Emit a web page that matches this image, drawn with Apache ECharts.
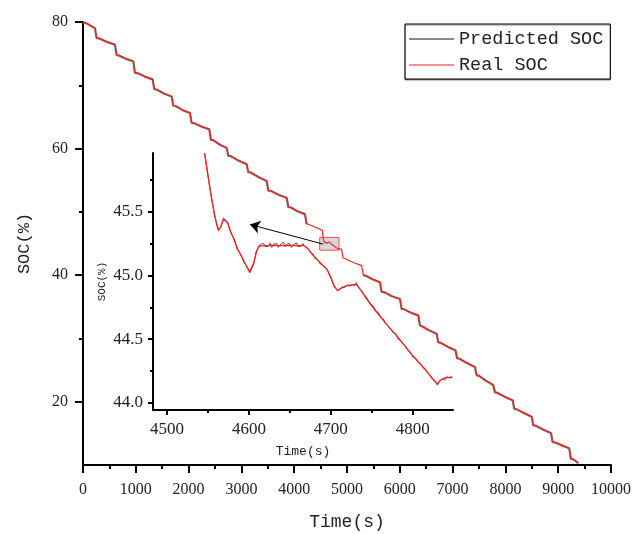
<!DOCTYPE html>
<html>
<head>
<meta charset="utf-8">
<script src="https://cdn.jsdelivr.net/npm/echarts@6/dist/echarts.min.js"></script>
<style>html,body{margin:0;padding:0;background:#fff}#c{width:635px;height:534px}</style>
</head>
<body>
<div id="c"></div>
<script>
// ---- data ----
var seriesNames = ['Predicted SOC', 'Real SOC'];
var mainXTicks = [0,1000,2000,3000,4000,5000,6000,7000,8000,9000,10000];
var mainYTicks = [20,40,60,80];
var mainYMinor = [30,50,70];
var insetXTicks = [4500,4600,4700,4800];
var insetXMinor = [4550,4650,4750];
var insetYTicks = [44.0,44.5,45.0,45.5];
var insetYMinor = [44.25,44.75,45.25,45.75];
var insetXRange = [4483, 4849];
var insetYRange = [43.945, 45.96];

var realMain = [[0,80.0],[60,79.8],[150,79.4],[227,79.0],[257,77.5],[300,77.4],[450,76.9],[606,76.4],
[636,74.8],[680,74.7],[820,74.2],[953,73.75],
[983,72.0],[1030,71.9],[1170,71.4],[1320,70.9],
[1350,69.4],[1395,69.3],[1540,68.7],[1680,68.2],
[1710,66.8],[1755,66.7],[1890,66.1],[2027,65.6],
[2057,64.1],[2100,64.0],[2250,63.5],[2393,63.0],
[2423,61.4],[2465,61.3],[2600,60.6],[2721,60.1],
[2751,58.9],[2795,58.8],[2950,58.1],[3100,57.5],
[3130,56.3],[3175,56.2],[3330,55.5],[3479,54.85],
[3509,53.4],[3555,53.3],[3710,52.7],[3858,52.2],
[3888,50.8],[3930,50.7],[4070,50.1],[4205,49.6],
[4235,48.1],[4280,48.0],[4420,47.5],[4535,47.1],
[4546,45.96],[4563,45.35],[4571,45.45],[4603,45.02],[4611,45.23],[4666,45.23],[4707,44.88],[4731,44.93],[4830,44.15],[4848,44.2],
[4895,44.1],[4925,42.75],[4970,42.6],[5120,42.0],[5278,41.5],
[5308,40.0],[5350,39.9],[5490,39.35],[5625,38.85],
[5655,37.4],[5700,37.3],[5850,36.7],[6004,36.2],
[6034,34.7],[6075,34.6],[6210,34.1],[6351,33.6],
[6381,32.1],[6420,31.9],[6560,31.3],[6699,30.7],
[6729,29.4],[6770,29.3],[6910,28.7],[7055,28.1],
[7085,26.9],[7125,26.8],[7280,26.1],[7424,25.45],
[7454,24.2],[7495,24.1],[7640,23.3],[7771,22.6],
[7801,21.5],[7845,21.4],[7990,20.8],[8138,20.2],
[8168,18.9],[8210,18.8],[8360,18.2],[8498,17.6],
[8528,16.3],[8570,16.2],[8720,15.6],[8864,15.0],
[8894,13.65],[8935,13.55],[9080,13.1],[9210,12.6],
[9240,11.0],[9280,10.9],[9340,10.6],[9380,10.3]];

var predMain = [[0,79.95],[60,79.82],[150,79.38],[227,79.03],[257,77.46],[300,77.42],[450,76.86],[606,76.43],
[636,74.77],[680,74.72],[820,74.17],[953,73.78],
[983,71.96],[1030,71.93],[1170,71.37],[1320,70.93],
[1350,69.37],[1395,69.32],[1540,68.67],[1680,68.23],
[1710,66.77],[1755,66.73],[1890,66.07],[2027,65.63],
[2057,64.07],[2100,64.03],[2250,63.46],[2393,63.04],
[2423,61.36],[2465,61.33],[2600,60.57],[2721,60.13],
[2751,58.86],[2795,58.83],[2950,58.06],[3100,57.54],
[3130,56.26],[3175,56.23],[3330,55.46],[3479,54.88],
[3509,53.36],[3555,53.33],[3710,52.66],[3858,52.24],
[3888,50.76],[3930,50.73],[4070,50.06],[4205,49.64],
[4235,48.07],null,
[5308,39.96],[5350,39.93],[5490,39.32],[5625,38.88],
[5655,37.36],[5700,37.33],[5850,36.66],[6004,36.24],
[6034,34.66],[6075,34.63],[6210,34.06],[6351,33.64],
[6381,32.06],[6420,31.93],[6560,31.26],[6699,30.74],
[6729,29.36],[6770,29.33],[6910,28.66],[7055,28.14],
[7085,26.86],[7125,26.83],[7280,26.06],[7424,25.49],
[7454,24.16],[7495,24.13],[7640,23.26],[7771,22.64],
[7801,21.46],[7845,21.43],[7990,20.76],[8138,20.24],
[8168,18.86],[8210,18.83],[8360,18.16],[8498,17.64],
[8528,16.26],[8570,16.23],[8720,15.56],[8864,15.04],
[8894,13.61],[8935,13.58],[9080,13.06],[9210,12.64],
[9240,10.96],[9280,10.93],[9340,10.56],[9380,10.27]];

var realInset = [[4546,45.96],[4550,45.79],[4554,45.62],[4558,45.48],[4561,45.39],[4563,45.35],[4566,45.39],[4569,45.44],[4571,45.45],[4574,45.41],[4578,45.34],[4582,45.28],[4586,45.21],[4590,45.16],[4594,45.11],[4598,45.06],[4601,45.03],[4603,45.02],[4606,45.10],[4609,45.18],[4612,45.23],[4620,45.234],[4630,45.236],[4640,45.233],[4650,45.236],[4660,45.234],[4667,45.235],[4672,45.21],[4678,45.16],[4684,45.12],[4690,45.08],[4695,45.05],[4700,44.98],[4704,44.92],[4708,44.88],[4713,44.90],[4719,44.92],[4725,44.925],[4731,44.93],[4736,44.89],[4742,44.83],[4750,44.76],[4760,44.68],[4770,44.60],[4780,44.53],[4790,44.45],[4800,44.37],[4810,44.30],[4818,44.24],[4824,44.19],[4830,44.15],[4834,44.18],[4840,44.20],[4848,44.20]];

var predInset = [[4546,45.95],[4550,45.78],[4554,45.63],[4558,45.47],[4561,45.40],[4563,45.36],[4566,45.38],[4569,45.45],[4571,45.44],[4574,45.42],[4578,45.33],[4582,45.29],[4586,45.20],[4590,45.17],[4594,45.10],[4598,45.07],[4601,45.02],[4603,45.03],[4606,45.09],[4609,45.19],[4612,45.22],[4614,45.245],[4616,45.23],[4618,45.25],[4620,45.225],[4622,45.24],[4624,45.23],[4626,45.255],[4628,45.22],[4630,45.245],[4632,45.23],[4634,45.25],[4636,45.22],[4638,45.24],[4640,45.235],[4642,45.26],[4644,45.225],[4646,45.245],[4648,45.23],[4650,45.25],[4652,45.22],[4654,45.24],[4656,45.235],[4658,45.255],[4660,45.225],[4662,45.24],[4664,45.23],[4666,45.25],[4668,45.23],[4672,45.215],[4675,45.18],[4678,45.17],[4681,45.13],[4684,45.125],[4687,45.09],[4690,45.085],[4693,45.06],[4696,45.04],[4700,44.99],[4704,44.91],[4708,44.885],[4711,44.895],[4714,44.91],[4717,44.905],[4720,44.925],[4723,44.915],[4726,44.93],[4729,44.92],[4731,44.945],[4734,44.90],[4737,44.885],[4740,44.85],[4743,44.835],[4746,44.80],[4749,44.775],[4752,44.76],[4755,44.72],[4758,44.71],[4761,44.67],[4764,44.66],[4767,44.62],[4770,44.605],[4773,44.58],[4776,44.55],[4779,44.545],[4782,44.50],[4785,44.49],[4788,44.46],[4791,44.45],[4794,44.41],[4797,44.40],[4800,44.36],[4803,44.355],[4806,44.32],[4809,44.31],[4812,44.28],[4815,44.27],[4818,44.235],[4821,44.22],[4824,44.185],[4827,44.17],[4830,44.14],[4833,44.175],[4836,44.19],[4839,44.18],[4842,44.205],[4845,44.195],[4848,44.21]];

// arrow annotation (data coords of the main chart)
var arrowFrom = [4551, 44.9];
var arrowTo = [3163, 48.0];

// ---- chart ----
var SERIF = '"Liberation Serif", serif';
var MONO = '"Liberation Mono", monospace';
var LINE = {lineStyle: {color: '#000', width: 2}};
var plain = function (v) { return String(v); };
var HIDE = {color: 'rgba(0,0,0,0)', borderColor: 'rgba(0,0,0,0)', borderWidth: 0, opacity: 0};

var chart = echarts.init(document.getElementById('c'), null, {renderer: 'canvas'});
chart.setOption({
  animation: false,
  backgroundColor: '#fff',
  grid: [
    {left: 83, top: 22, right: 24, bottom: 69, containLabel: false, outerBoundsMode: 'none'},
    {left: 153, top: 153, right: 182, bottom: 124, containLabel: false, outerBoundsMode: 'none'}
  ],
  legend: {
    orient: 'vertical', left: 405, top: 24,
    borderColor: '#000', borderWidth: 1, borderRadius: 0,
    backgroundColor: '#fff',
    shadowColor: 'rgba(0,0,0,0.45)', shadowOffsetX: 0, shadowOffsetY: 1, shadowBlur: 0,
    padding: [5, 7, 4, 3],
    itemWidth: 45, itemHeight: 14, itemGap: 6, itemTextGap: 10,
    textStyle: {fontFamily: MONO, fontSize: 18.5, color: '#222', lineHeight: 20},
    data: [
      {name: seriesNames[0], itemStyle: HIDE, lineStyle: {color: '#888', width: 2}},
      {name: seriesNames[1], itemStyle: HIDE, lineStyle: {color: '#ff2020', width: 1}}
    ]
  },
  xAxis: [
    {gridIndex: 0, type: 'value', position: 'bottom', min: 0, max: 10000, interval: 1000,
     axisLine: LINE, axisTick: {length: 8, lineStyle: {width: 2, color: '#000'}},
     minorTick: {show: true, splitNumber: 2, length: 4, lineStyle: {width: 2, color: '#000'}},
     splitLine: {show: false},
     axisLabel: {fontFamily: SERIF, fontSize: 16, color: '#222', margin: 17, formatter: plain},
     name: 'Time(s)', nameLocation: 'middle', nameGap: 48,
     nameTextStyle: {fontFamily: MONO, fontSize: 18, color: '#222'}},
    {gridIndex: 1, type: 'value', position: 'bottom', min: insetXRange[0], max: insetXRange[1],
     axisLine: LINE,
     axisTick: {length: 5, customValues: insetXTicks, lineStyle: {width: 2, color: '#000'}},
     splitLine: {show: false},
     axisLabel: {customValues: insetXTicks, fontFamily: SERIF, fontSize: 17, color: '#222', margin: 11, formatter: plain},
     name: 'Time(s)', nameLocation: 'middle', nameGap: 35,
     nameTextStyle: {fontFamily: MONO, fontSize: 13, color: '#222'}},
    {gridIndex: 1, type: 'value', position: 'bottom', min: insetXRange[0], max: insetXRange[1],
     axisLine: {show: false},
     axisTick: {length: 3, customValues: insetXMinor, lineStyle: {width: 2, color: '#000'}},
     axisLabel: {show: false}, splitLine: {show: false}}
  ],
  yAxis: [
    {gridIndex: 0, type: 'value', position: 'left', min: 10, max: 80,
     axisLine: LINE,
     axisTick: {length: 8, customValues: mainYTicks, lineStyle: {width: 2, color: '#000'}},
     splitLine: {show: false},
     axisLabel: {customValues: mainYTicks, fontFamily: SERIF, fontSize: 16, color: '#222', margin: 15,
                 padding: [2, 0, 0, 0], formatter: plain},
     name: 'SOC(%)', nameLocation: 'middle', nameGap: 50, nameRotate: 90,
     nameTextStyle: {fontFamily: MONO, fontSize: 17, color: '#222'}},
    {gridIndex: 0, type: 'value', position: 'left', min: 10, max: 80,
     axisLine: {show: false},
     axisTick: {length: 4, customValues: mainYMinor, lineStyle: {width: 2, color: '#000'}},
     axisLabel: {show: false}, splitLine: {show: false}},
    {gridIndex: 1, type: 'value', position: 'left', min: insetYRange[0], max: insetYRange[1],
     axisLine: LINE,
     axisTick: {length: 5, customValues: insetYTicks, lineStyle: {width: 2, color: '#000'}},
     splitLine: {show: false},
     axisLabel: {customValues: insetYTicks, fontFamily: SERIF, fontSize: 17, color: '#222', margin: 10,
                 padding: [2, 0, 0, 0], formatter: function (v) { return v.toFixed(1); }},
     name: 'SOC(%)', nameLocation: 'middle', nameGap: 45, nameRotate: 90,
     nameTextStyle: {fontFamily: MONO, fontSize: 11, color: '#222'}},
    {gridIndex: 1, type: 'value', position: 'left', min: insetYRange[0], max: insetYRange[1],
     axisLine: {show: false},
     axisTick: {length: 3, customValues: insetYMinor, lineStyle: {width: 2, color: '#000'}},
     axisLabel: {show: false}, splitLine: {show: false}}
  ],
  series: [
    {name: seriesNames[0], type: 'line', xAxisIndex: 0, yAxisIndex: 0, data: predMain,
     symbol: 'none', connectNulls: false, silent: true,
     lineStyle: {color: '#707070', width: 2.2}, itemStyle: {color: '#888'}, z: 2},
    {name: seriesNames[1], type: 'line', xAxisIndex: 0, yAxisIndex: 0, data: realMain,
     symbol: 'none', silent: true,
     lineStyle: {color: '#ff2020', width: 1.2}, itemStyle: {color: '#ff2020'}, z: 3,
     markArea: {silent: true,
       itemStyle: {color: 'rgba(140,140,140,0.35)', borderColor: '#f05050', borderWidth: 1},
       data: [[{coord: [insetXRange[0], insetYRange[1]]}, {coord: [insetXRange[1], insetYRange[0]]}]]},
     markLine: {silent: true, symbol: ['none', 'arrow'], symbolSize: 10,
       label: {show: false}, itemStyle: {color: '#000'},
       lineStyle: {color: '#000', width: 1, type: 'solid'},
       data: [[{coord: arrowFrom}, {coord: arrowTo}]]}},
    {name: seriesNames[0], type: 'line', xAxisIndex: 1, yAxisIndex: 2, data: predInset,
     symbol: 'none', silent: true,
     lineStyle: {color: '#505050', width: 1}, itemStyle: {color: '#888'}, z: 4},
    {name: seriesNames[1], type: 'line', xAxisIndex: 1, yAxisIndex: 2, data: realInset,
     symbol: 'none', silent: true,
     lineStyle: {color: '#ff2020', width: 1.3}, itemStyle: {color: '#ff2020'}, z: 5}
  ]
});
</script>
</body>
</html>
